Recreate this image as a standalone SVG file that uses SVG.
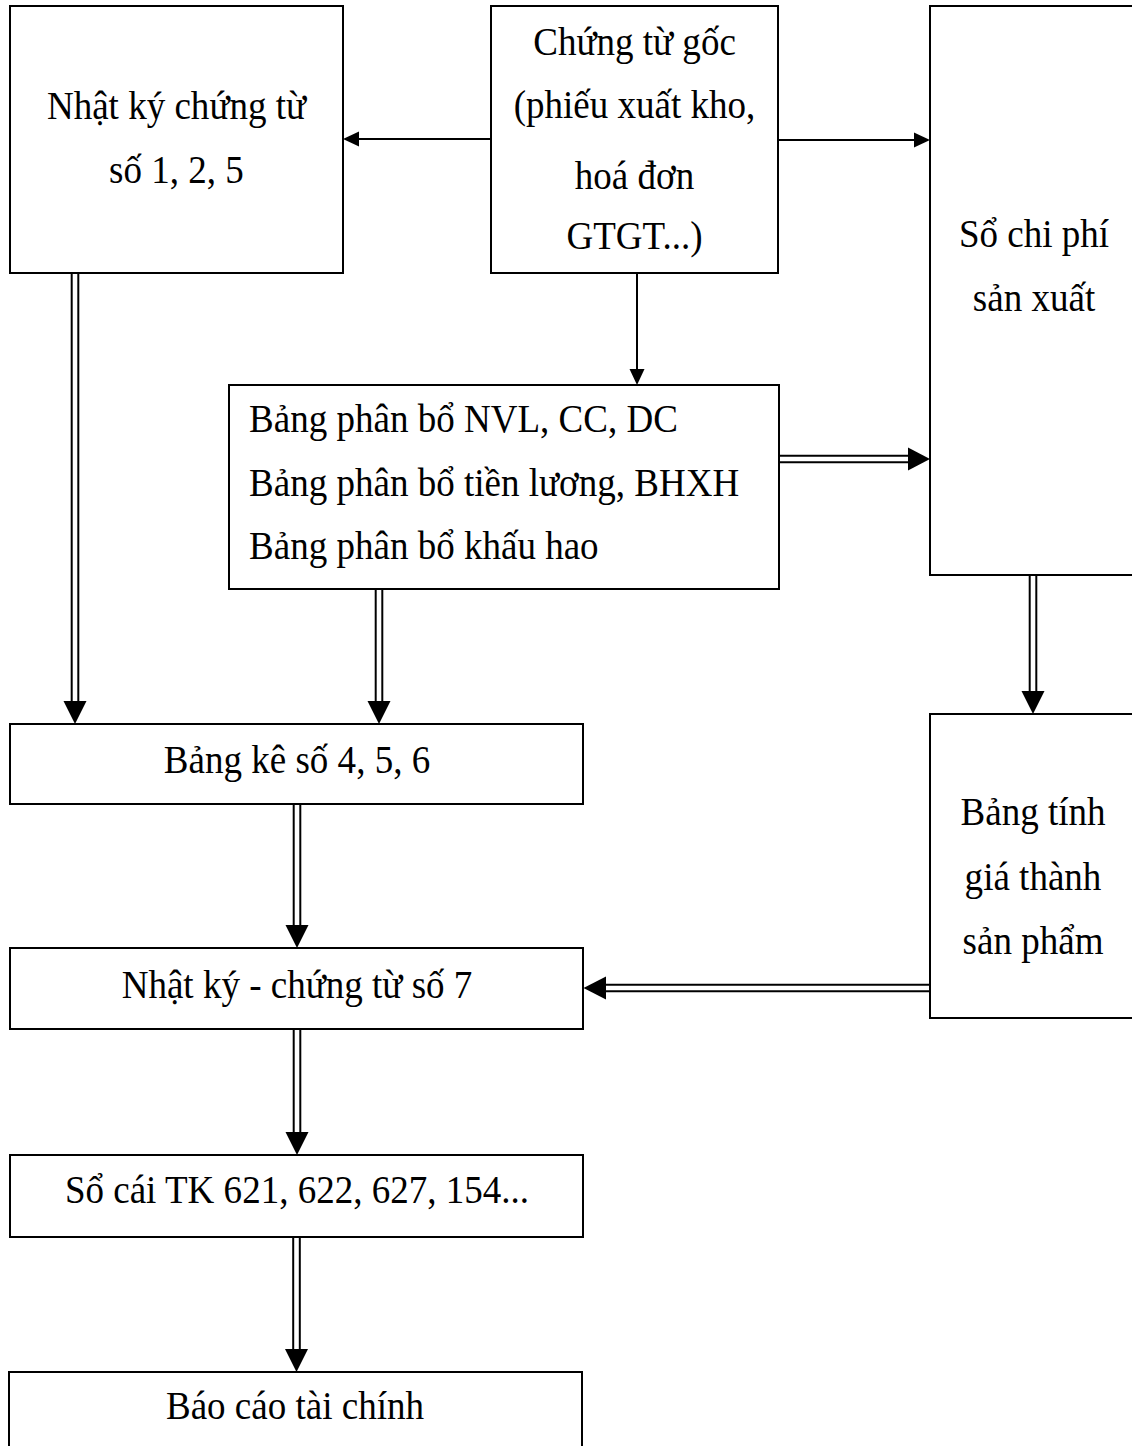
<svg xmlns="http://www.w3.org/2000/svg" width="1132" height="1446" viewBox="0 0 1132 1446">
<style>
  .box { fill: #fff; stroke: #000; stroke-width: 2; }
  .t { font-family: "Liberation Serif", "Times New Roman", serif; font-size: 39px; fill: #000; }
  .c { text-anchor: middle; }
  .ln { stroke: #000; stroke-width: 2; fill: none; }
  .hd { fill: #000; stroke: none; }
</style>
<rect x="0" y="0" width="1132" height="1446" fill="#fff"/>
<g id="connectors">
  <line class="ln" x1="491" y1="139" x2="358" y2="139"/>
  <polygon class="hd" points="343,139 359,131.5 359,146.5"/>
  <line class="ln" x1="778" y1="140" x2="914" y2="140"/>
  <polygon class="hd" points="930,140 914,132.5 914,147.5"/>
  <line class="ln" x1="637" y1="273" x2="637" y2="369"/>
  <polygon class="hd" points="637,385 629.5,369 644.5,369"/>
  <line class="ln" x1="71.7" y1="273" x2="71.7" y2="702"/>
  <line class="ln" x1="78.3" y1="273" x2="78.3" y2="702"/>
  <polygon class="hd" points="63.5,701 86.5,701 75,724"/>
  <line class="ln" x1="375.7" y1="589" x2="375.7" y2="702"/>
  <line class="ln" x1="382.3" y1="589" x2="382.3" y2="702"/>
  <polygon class="hd" points="367.5,701 390.5,701 379,724"/>
  <line class="ln" x1="779" y1="455.7" x2="909" y2="455.7"/>
  <line class="ln" x1="779" y1="462.3" x2="909" y2="462.3"/>
  <polygon class="hd" points="908,447.5 908,470.5 930,459"/>
  <line class="ln" x1="1029.7" y1="575" x2="1029.7" y2="692"/>
  <line class="ln" x1="1036.3" y1="575" x2="1036.3" y2="692"/>
  <polygon class="hd" points="1021.5,691 1044.5,691 1033,714"/>
  <line class="ln" x1="293.7" y1="804" x2="293.7" y2="926"/>
  <line class="ln" x1="300.3" y1="804" x2="300.3" y2="926"/>
  <polygon class="hd" points="285.5,925 308.5,925 297,948"/>
  <line class="ln" x1="929" y1="984.7" x2="605" y2="984.7"/>
  <line class="ln" x1="929" y1="991.3" x2="605" y2="991.3"/>
  <polygon class="hd" points="583.5,988 606,976.5 606,999.5"/>
  <line class="ln" x1="293.7" y1="1029" x2="293.7" y2="1133"/>
  <line class="ln" x1="300.3" y1="1029" x2="300.3" y2="1133"/>
  <polygon class="hd" points="285.5,1132 308.5,1132 297,1155"/>
  <line class="ln" x1="293.2" y1="1237" x2="293.2" y2="1350"/>
  <line class="ln" x1="299.8" y1="1237" x2="299.8" y2="1350"/>
  <polygon class="hd" points="285,1349 308,1349 296.5,1372"/>
</g>
<g id="node-nhatky125">
  <rect class="box" x="10" y="6" width="333" height="267"/>
  <text class="t c" transform="translate(176.5 119) scale(0.95 1)">Nhật ký chứng từ</text>
  <text class="t c" transform="translate(176.5 183) scale(0.95 1)">số 1, 2, 5</text>
</g>
<g id="node-chungtugoc">
  <rect class="box" x="491" y="6" width="287" height="267"/>
  <text class="t c" transform="translate(634.5 55) scale(0.95 1)">Chứng từ gốc</text>
  <text class="t c" transform="translate(634.5 118) scale(0.95 1)">(phiếu xuất kho,</text>
  <text class="t c" transform="translate(634.5 189) scale(0.95 1)">hoá đơn</text>
  <text class="t c" transform="translate(634.5 249) scale(0.95 1)">GTGT...)</text>
</g>
<g id="node-sochiphi">
  <rect class="box" x="930" y="6" width="208" height="569"/>
  <text class="t c" transform="translate(1034 247) scale(0.95 1)">Sổ chi phí</text>
  <text class="t c" transform="translate(1034 311) scale(0.95 1)">sản xuất</text>
</g>
<g id="node-bangphanbo">
  <rect class="box" x="229" y="385" width="550" height="204"/>
  <text class="t" transform="translate(249 432) scale(0.95 1)">Bảng phân bổ NVL, CC, DC</text>
  <text class="t" transform="translate(249 496) scale(0.95 1)">Bảng phân bổ tiền lương, BHXH</text>
  <text class="t" transform="translate(249 559) scale(0.95 1)">Bảng phân bổ khấu hao</text>
</g>
<g id="node-bangke">
  <rect class="box" x="10" y="724" width="573" height="80"/>
  <text class="t c" transform="translate(297 773) scale(0.95 1)">Bảng kê số 4, 5, 6</text>
</g>
<g id="node-bangtinhgiathanh">
  <rect class="box" x="930" y="714" width="208" height="304"/>
  <text class="t c" transform="translate(1033 825) scale(0.95 1)">Bảng tính</text>
  <text class="t c" transform="translate(1033 890) scale(0.95 1)">giá thành</text>
  <text class="t c" transform="translate(1033 954) scale(0.95 1)">sản phẩm</text>
</g>
<g id="node-nhatky7">
  <rect class="box" x="10" y="948" width="573" height="81"/>
  <text class="t c" transform="translate(297 998) scale(0.95 1)">Nhật ký - chứng từ số 7</text>
</g>
<g id="node-socai">
  <rect class="box" x="10" y="1155" width="573" height="82"/>
  <text class="t c" transform="translate(297 1203) scale(0.95 1)">Sổ cái TK 621, 622, 627, 154...</text>
</g>
<g id="node-baocao">
  <rect class="box" x="9" y="1372" width="573" height="90"/>
  <text class="t c" transform="translate(295 1419) scale(0.95 1)">Báo cáo tài chính</text>
</g>
</svg>
